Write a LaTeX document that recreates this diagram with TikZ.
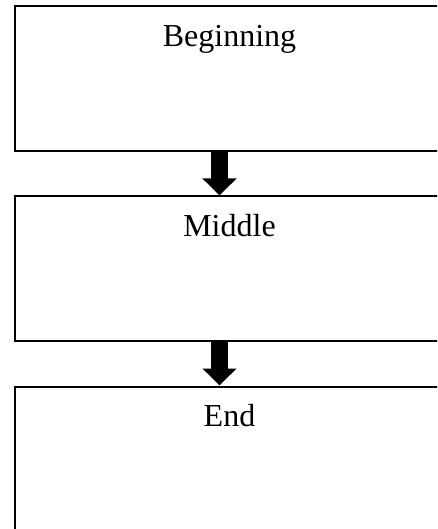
\documentclass[tikz,border=0pt]{standalone}
\usepackage{fontspec}
\setmainfont{Liberation Serif}
\usetikzlibrary{arrows.meta}
\begin{document}
\begin{tikzpicture}[x=1pt,y=1pt,
  stagebox/.style={draw=black, line width=2pt, minimum width=429pt, anchor=north west, inner sep=0pt},
  stagelbl/.style={anchor=base, font=\fontsize{32}{38}\selectfont, inner sep=0pt},
  flowarrow/.style={line width=17pt, -{Triangle[length=17pt 0, width=33pt 0]}}]
\useasboundingbox (0,0) rectangle (437,-529);
\clip (0,0) rectangle (437,-529);
\node[stagebox, minimum height=145pt] (b1) at (14,-5) {};
\node[stagebox, minimum height=144pt] (b2) at (14,-195.5) {};
\node[stagebox, minimum height=160pt] (b3) at (14,-385.5) {};
\node[stagelbl] (t1) at ([yshift=-42pt]b1.north) {Beginning};
\node[stagelbl] (t2) at ([yshift=-40.5pt]b2.north) {Middle};
\node[stagelbl] (t3) at ([yshift=-41pt]b3.north) {End};
\coordinate (ax) at (219.5,0);
\draw[flowarrow] (b1.south -| ax) -- (b2.north -| ax);
\draw[flowarrow] (b2.south -| ax) -- (b3.north -| ax);
\end{tikzpicture}
\end{document}
